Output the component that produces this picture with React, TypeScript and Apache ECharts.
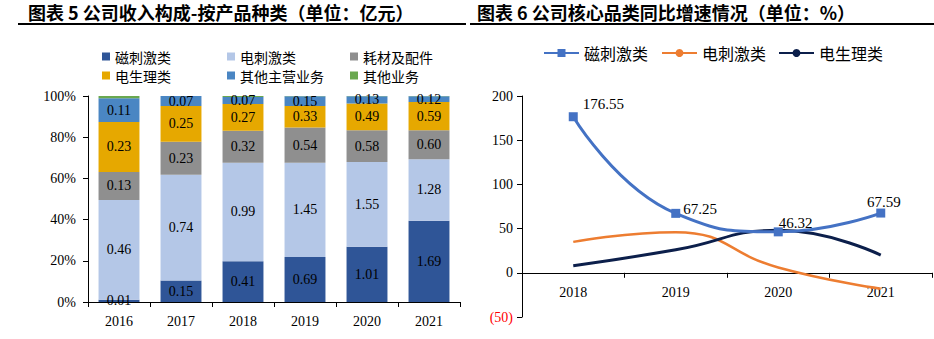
import React, { useEffect, useRef } from "react";
import * as echarts from "echarts";

// ---- Left chart data (亿元) ----
const years = ["2016", "2017", "2018", "2019", "2020", "2021"];
const magnetic = [0.01, 0.15, 0.41, 0.69, 1.01, 1.69];
const electric = [0.46, 0.74, 0.99, 1.45, 1.55, 1.28];
const consumables = [0.13, 0.23, 0.32, 0.54, 0.58, 0.6];
const electrophys = [0.23, 0.25, 0.27, 0.33, 0.49, 0.59];
const otherMain = [0.11, 0.07, 0.07, 0.15, 0.13, 0.12];
const otherBiz = [0.01, 0.0, 0.01, 0.005, 0.005, 0.005];

// ---- Right chart data (%) ----
const growthYears = ["2018", "2019", "2020", "2021"];
const magGrowth = [176.55, 67.25, 46.32, 67.59];
const elecGrowth = [35, 46, 6, -18];
const physGrowth = [8, 26, 48, 20];

const SERIF = "'Liberation Serif', 'Times New Roman', serif";
const CJK = "'Noto Sans CJK SC', sans-serif";

function LeftChart() {
  const ref = useRef<HTMLDivElement>(null);
  useEffect(() => {
    if (!ref.current) return;
    const chart = echarts.init(ref.current, null, { renderer: "svg" });
    const groups = [
      { name: "磁刺激类", vals: magnetic, color: "#2F5597", label: true },
      { name: "电刺激类", vals: electric, color: "#B4C7E7", label: true },
      { name: "耗材及配件", vals: consumables, color: "#8F8F8F", label: true },
      { name: "电生理类", vals: electrophys, color: "#E6A800", label: true },
      { name: "其他主营业务", vals: otherMain, color: "#4A86C3", label: true },
      { name: "其他业务", vals: otherBiz, color: "#6AA84F", label: false },
    ];
    const totals = years.map((_, i) => groups.reduce((s, g) => s + g.vals[i], 0));
    const legendPos = [
      { left: 102, top: 49 },
      { left: 227, top: 49 },
      { left: 350, top: 49 },
      { left: 102, top: 68 },
      { left: 227, top: 68 },
      { left: 350, top: 68 },
    ];
    chart.setOption({
      animation: false,
      textStyle: { fontFamily: SERIF },
      title: {
        text: "图表 5 公司收入构成-按产品种类（单位：亿元）",
        left: 28,
        top: 3,
        padding: 0,
        textStyle: { fontFamily: CJK, fontSize: 18, fontWeight: "bold", color: "#000", lineHeight: 18 },
      },
      graphic: [
        { type: "line", shape: { x1: 18, y1: 24, x2: 466, y2: 24 }, style: { stroke: "#000", lineWidth: 2 } },
      ],
      legend: groups.map((g, i) => ({
        data: [g.name],
        left: legendPos[i].left,
        top: legendPos[i].top,
        padding: 0,
        icon: "rect",
        itemWidth: 8,
        itemHeight: 8,
        textStyle: { fontFamily: CJK, fontSize: 14, color: "#000", lineHeight: 15 },
        selectedMode: false,
      })),
      grid: { left: 88, top: 96, width: 372, height: 206 },
      xAxis: {
        type: "category",
        data: years,
        axisLine: { show: true, lineStyle: { color: "#000", width: 1 } },
        axisTick: { show: true, length: 5, lineStyle: { color: "#000" } },
        axisLabel: { color: "#000", fontSize: 14, fontFamily: SERIF, margin: 12 },
        z: 10,
      },
      yAxis: {
        type: "value",
        min: 0,
        max: 1,
        interval: 0.2,
        splitLine: { show: false },
        axisLine: { show: true, lineStyle: { color: "#000", width: 1 } },
        axisTick: { show: true, length: 5, lineStyle: { color: "#000" } },
        axisLabel: {
          color: "#000",
          fontSize: 14,
          fontFamily: SERIF,
          margin: 12,
          formatter: (v: number) => Math.round(v * 100) + "%",
        },
      },
      series: groups.map((g) => ({
        name: g.name,
        type: "bar",
        stack: "total",
        barCategoryGap: "34%",
        itemStyle: { color: g.color },
        data: g.vals.map((v, i) => v / totals[i]),
        label: {
          show: g.label,
          position: "inside",
          color: "#000",
          fontSize: 14,
          fontFamily: SERIF,
          formatter: (p: any) => g.vals[p.dataIndex].toFixed(2),
        },
      })),
    });
    return () => chart.dispose();
  }, []);
  return <div ref={ref} style={{ position: "absolute", left: 0, top: 0, width: 470, height: 339 }} />;
}

function RightChart() {
  const ref = useRef<HTMLDivElement>(null);
  useEffect(() => {
    if (!ref.current) return;
    const chart = echarts.init(ref.current, null, { renderer: "svg" });
    const magLabelCfg = [
      { position: "right", offset: [0, -13] },
      { position: "right", offset: [-2, -4] },
      { position: "right", offset: [-9, -9] },
      { position: "top", offset: [3, 6] },
    ];
    const yMin = -50;
    const yMax = 200;
    const gridH = 221;
    const zeroOffset = -(gridH * (0 - yMin)) / (yMax - yMin);
    chart.setOption({
      animation: false,
      textStyle: { fontFamily: SERIF },
      title: {
        text: "图表 6 公司核心品类同比增速情况（单位：%）",
        left: 7,
        top: 3,
        padding: 0,
        textStyle: { fontFamily: CJK, fontSize: 18, fontWeight: "bold", color: "#000", lineHeight: 18 },
      },
      graphic: [
        { type: "line", shape: { x1: 0, y1: 24, x2: 464, y2: 24 }, style: { stroke: "#000", lineWidth: 2 } },
      ],
      legend: [
        { name: "磁刺激类", left: 73 },
        { name: "电刺激类", left: 191 },
        { name: "电生理类", left: 308 },
      ].map((l) => ({
        data: [l.name],
        left: l.left,
        top: 45,
        padding: 0,
        itemWidth: 35,
        itemHeight: 10,
        textStyle: { fontFamily: CJK, fontSize: 16, color: "#000", lineHeight: 16 },
        selectedMode: false,
      })),
      grid: { left: 52, top: 96, width: 410, height: gridH },
      xAxis: {
        type: "category",
        data: growthYears,
        position: "bottom",
        offset: zeroOffset,
        axisLine: { show: true, onZero: false, lineStyle: { color: "#000", width: 1 } },
        axisTick: { show: true, length: 5, lineStyle: { color: "#000" } },
        axisLabel: { color: "#000", fontSize: 14, fontFamily: SERIF, margin: 13 },
      },
      yAxis: {
        type: "value",
        min: yMin,
        max: yMax,
        interval: 50,
        splitLine: { show: false },
        axisLine: { show: true, lineStyle: { color: "#000", width: 1 } },
        axisTick: { show: true, length: 5, lineStyle: { color: "#000" } },
        axisLabel: {
          fontSize: 14,
          fontFamily: SERIF,
          margin: 9,
          color: (v: any) => (Number(v) < 0 ? "#FF0000" : "#000"),
          formatter: (v: number) => (v < 0 ? `(${-v})` : String(v)),
        },
      },
      series: [
        {
          name: "磁刺激类",
          type: "line",
          smooth: true,
          symbol: "rect",
          symbolSize: 9,
          lineStyle: { color: "#4472C4", width: 3 },
          itemStyle: { color: "#4472C4" },
          data: magGrowth.map((v, i) => ({
            value: v,
            label: { position: magLabelCfg[i].position, offset: magLabelCfg[i].offset },
          })),
          label: {
            show: true,
            color: "#000",
            fontSize: 15,
            fontFamily: SERIF,
            distance: 5,
            formatter: (p: any) => magGrowth[p.dataIndex].toFixed(2),
          },
          z: 3,
        },
        {
          name: "电刺激类",
          type: "line",
          smooth: true,
          showSymbol: false,
          symbol: "none",
          lineStyle: { color: "#ED7D31", width: 2.5 },
          itemStyle: { color: "#ED7D31" },
          data: elecGrowth,
          z: 2,
        },
        {
          name: "电生理类",
          type: "line",
          smooth: true,
          showSymbol: false,
          symbol: "none",
          lineStyle: { color: "#0C1F4B", width: 3 },
          itemStyle: { color: "#0C1F4B" },
          data: physGrowth,
          z: 2,
        },
      ],
    });
    return () => chart.dispose();
  }, []);
  return <div ref={ref} style={{ position: "absolute", left: 470, top: 0, width: 464, height: 339 }} />;
}

export default function App() {
  useEffect(() => {
    document.body.style.margin = "0";
  }, []);
  return (
    <div style={{ position: "relative", width: 934, height: 339, background: "#fff" }}>
      <LeftChart />
      <RightChart />
    </div>
  );
}
